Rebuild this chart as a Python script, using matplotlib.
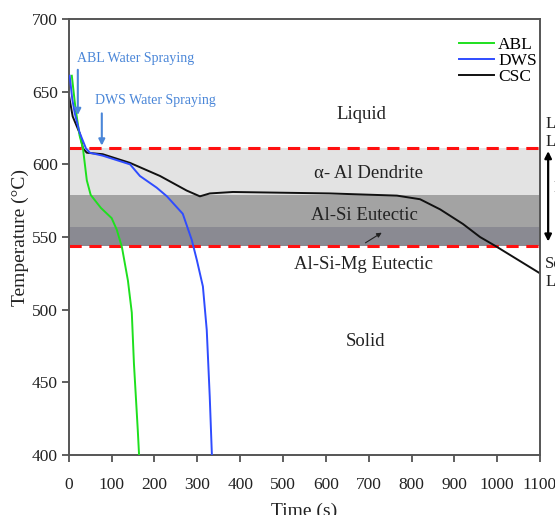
import numpy as np
import matplotlib
matplotlib.use("Agg")
import matplotlib.pyplot as plt

plt.rcParams['font.family'] = ['Liberation Serif', 'DejaVu Serif']

# cooling curves (time s, temperature C)
abl_t = [7, 15, 25, 33, 42, 51, 75, 100, 112, 124, 138, 147, 152, 161, 164]
abl_T = [661, 640, 620, 611, 589, 579, 570, 563, 555, 543, 520, 498, 463, 417, 400]

dws_t = [2, 8, 14, 25, 40, 49, 79, 143, 166, 205, 229, 266, 287, 299, 313, 322, 329, 334]
dws_T = [661, 645, 635, 622, 611, 608, 606, 600, 592, 584, 578, 566, 548, 534, 516, 486, 440, 400]

csc_t = [0, 9, 26, 33, 42, 79, 143, 213, 275, 306, 329, 383, 610, 766, 820, 867, 920, 960, 995, 1100]
csc_T = [648, 633, 621, 611, 608, 607, 601, 592, 582, 578, 580, 581, 580, 578.5, 576, 569, 559, 550, 544, 525]

liquidus = 611
solidus = 544
bands = [(579, 611, '#e3e3e3'), (557, 579, '#a3a3a3'), (544, 557, '#8a8a92')]

fig = plt.figure(figsize=(5.55, 5.15), dpi=100)
ax = fig.add_axes([0.124, 0.1165, 0.849, 0.8465])

for lo, hi, c in bands:
    ax.axhspan(lo, hi, color=c, zorder=0, lw=0)
ax.axhline(liquidus, color='#ff1010', ls=(0, (4, 2.5)), lw=2.2, zorder=1)
ax.axhline(solidus, color='#ff1010', ls=(0, (4, 2.5)), lw=2.2, zorder=1)

ax.plot(abl_t, abl_T, color='#1ee01e', lw=1.4, label='ABL', zorder=3)
ax.plot(dws_t, dws_T, color='#2f4cff', lw=1.4, label='DWS', zorder=3)
ax.plot(csc_t, csc_T, color='#111111', lw=1.4, label='CSC', zorder=2)

ax.set_xlim(0, 1100)
ax.set_ylim(400, 700)
ax.set_xticks(np.arange(0, 1101, 100))
ax.set_yticks(np.arange(400, 701, 50))
ax.tick_params(direction='out', length=5, width=1.2, color='#444444', labelsize=12.5, labelcolor='#222222')
ax.tick_params(axis='x', pad=11)
ax.tick_params(axis='y', pad=3)
for s in ax.spines.values():
    s.set_color('#555555')
    s.set_linewidth(1.4)

ax.set_xlabel('Time (s)', fontsize=14, color='#222222', labelpad=7)
ax.set_ylabel('Temperature (°C)', fontsize=14, color='#222222', labelpad=2)

leg = ax.legend(loc='upper right', frameon=False, fontsize=12.5, handlelength=2.0,
                handletextpad=0.25, labelspacing=0.0, borderaxespad=0.25,
                bbox_to_anchor=(1.017, 0.985))

txt = dict(fontsize=13.5, ha='center', va='center', color='#222222')
ax.text(684, 634, 'Liquid', **txt)
ax.text(699, 594, 'α- Al Dendrite', **txt)
ax.text(689, 565, 'Al-Si Eutectic', **txt)
ax.text(687, 531, 'Al-Si-Mg Eutectic', **txt)
ax.text(692, 478, 'Solid', **txt)
ax.annotate('', xy=(736, 554), xytext=(687, 545),
            arrowprops=dict(arrowstyle='-|>', color='#222222', lw=0.8, mutation_scale=7))

spray = '#4a86d8'
ax.text(20, 673, 'ABL Water Spraying', fontsize=10, color=spray, ha='left', va='center')
ax.annotate('', xy=(21, 632), xytext=(21, 667),
            arrowprops=dict(arrowstyle='-|>', color=spray, lw=1.5, mutation_scale=9))
ax.text(62, 644, 'DWS Water Spraying', fontsize=10, color=spray, ha='left', va='center')
ax.annotate('', xy=(77, 611), xytext=(77, 637),
            arrowprops=dict(arrowstyle='-|>', color=spray, lw=1.5, mutation_scale=9))

# side notes, cut off by the figure edge as in the source
side = dict(fontsize=12, color='#222222', ha='left', va='center', clip_on=False, linespacing=1.15)
ax.text(1112, 621.5, 'Liquidus\nLine', **side)
ax.text(1112, 525.5, 'Solidus\nLine', **side)
ax.text(1131, 584, 'Freezing', **side)
ax.annotate('', xy=(1119, 611), xytext=(1119, 545), annotation_clip=False,
            arrowprops=dict(arrowstyle='<|-|>', color='black', lw=1.6, mutation_scale=10))

fig.savefig('out.png', dpi=100)
